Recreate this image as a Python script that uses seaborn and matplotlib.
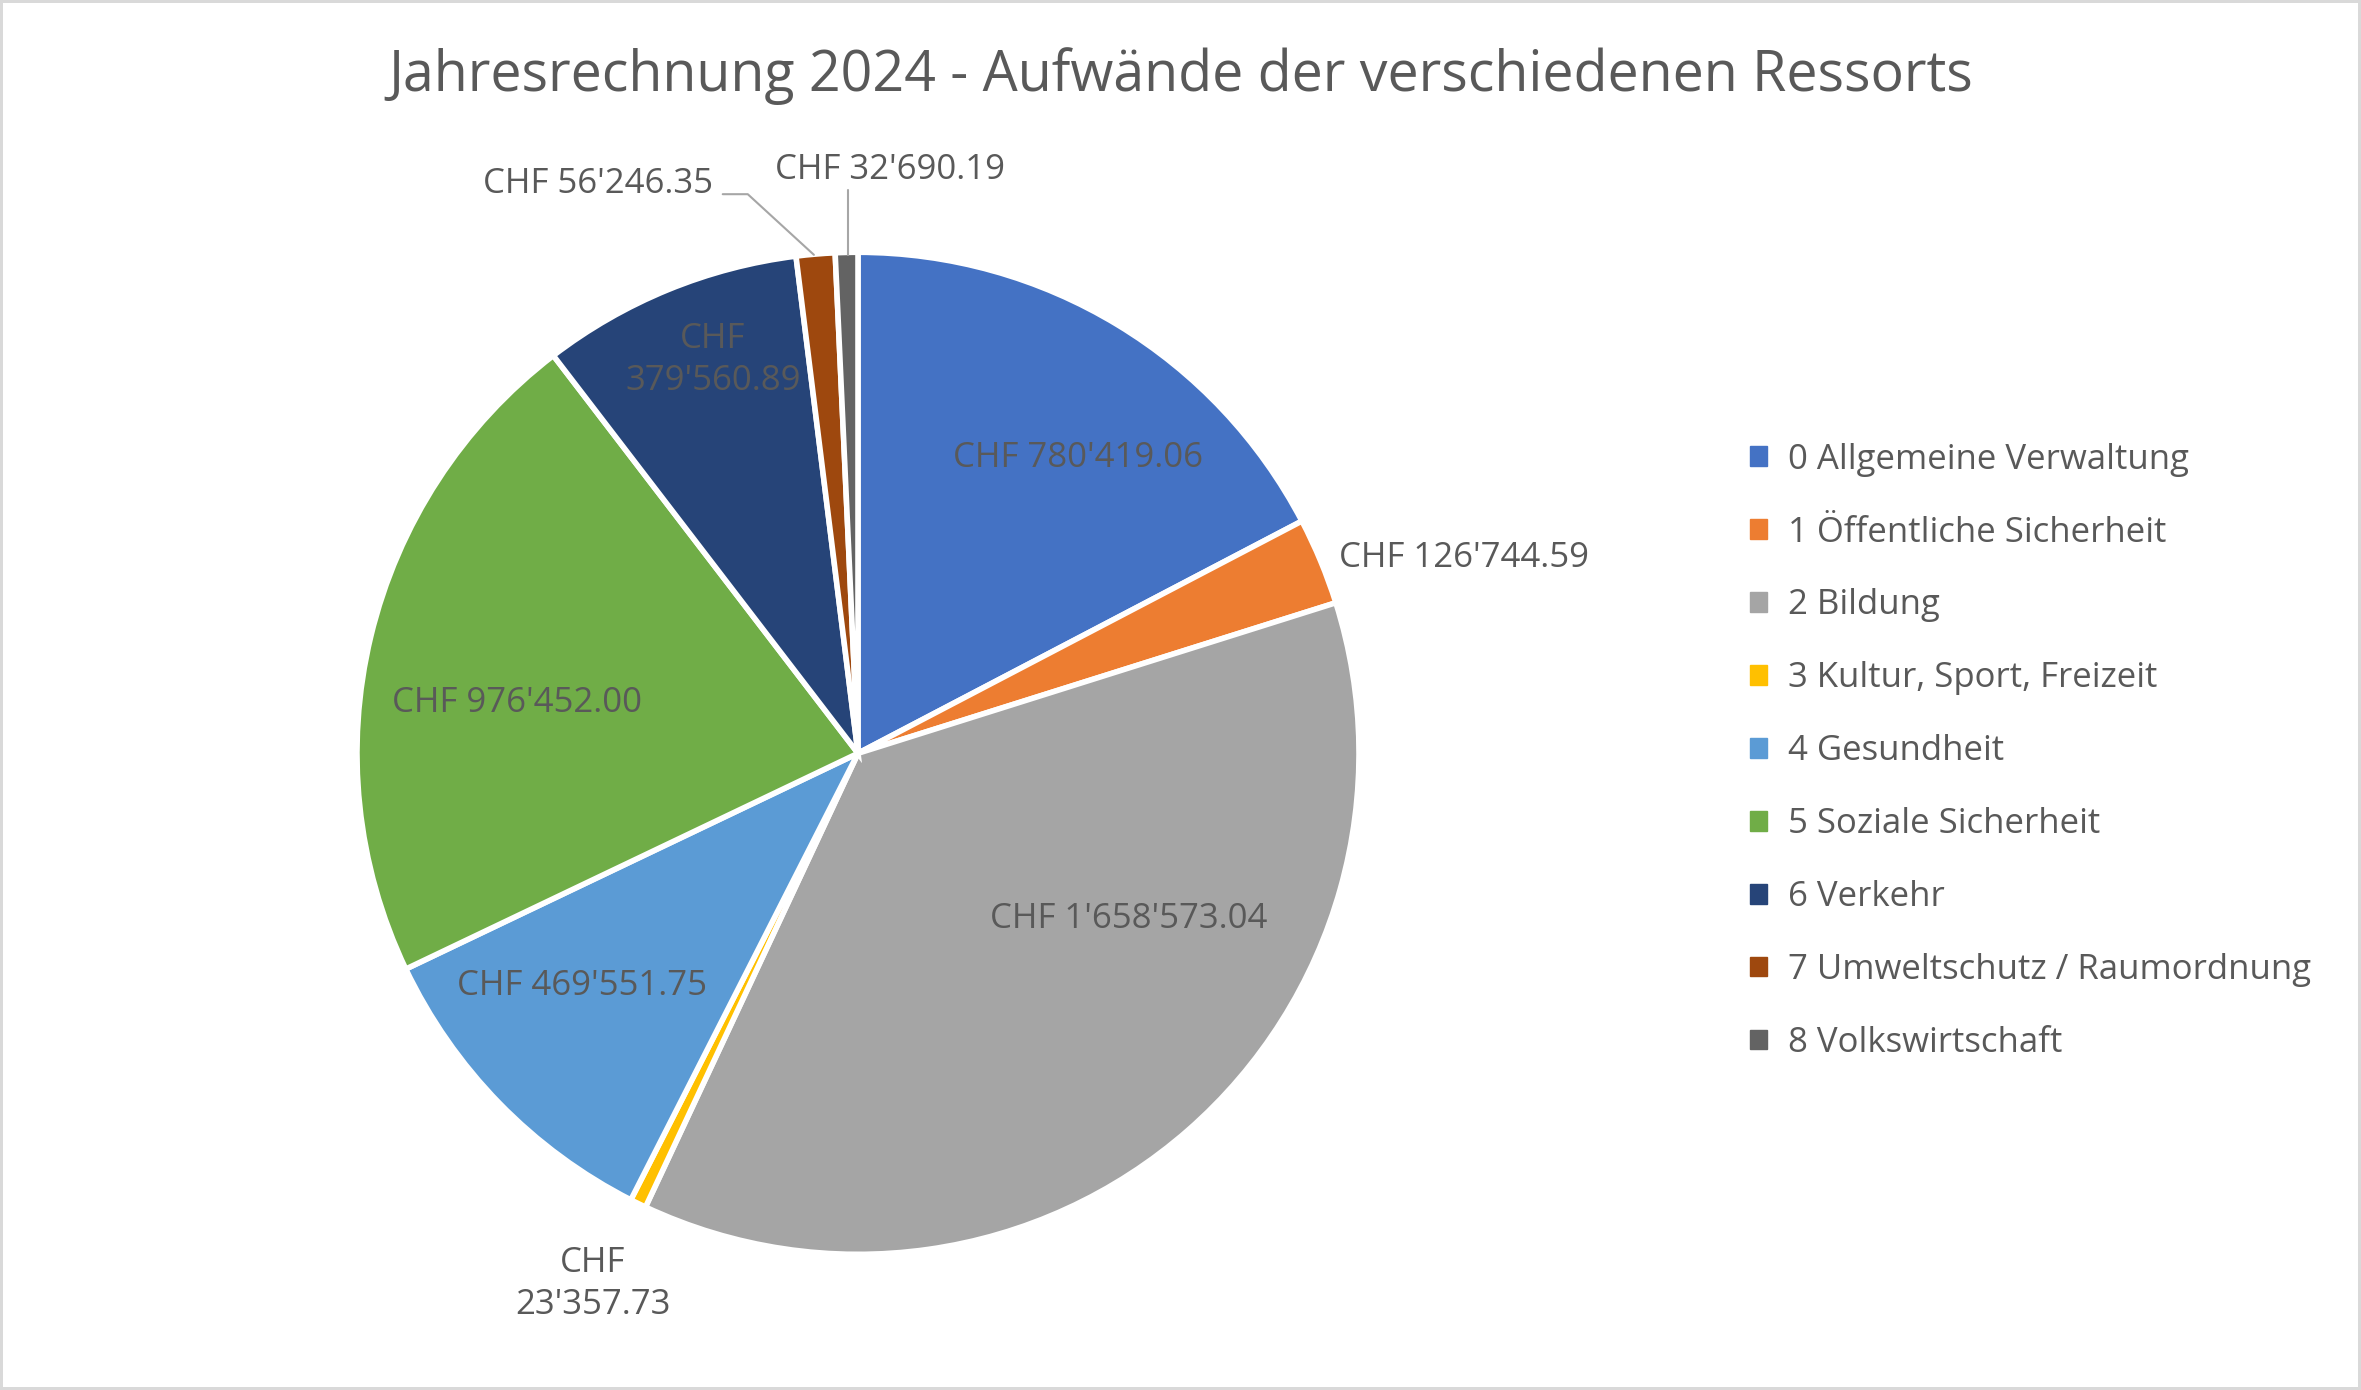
import numpy as np
import matplotlib.pyplot as plt
import seaborn as sns
from matplotlib.patches import Patch

categories = ["0 Allgemeine Verwaltung", "1 Öffentliche Sicherheit", "2 Bildung",
              "3 Kultur, Sport, Freizeit", "4 Gesundheit", "5 Soziale Sicherheit",
              "6 Verkehr", "7 Umweltschutz / Raumordnung", "8 Volkswirtschaft"]
values = [780419.06, 126744.59, 1658573.04, 23357.73, 469551.75,
          976452.00, 379560.89, 56246.35, 32690.19]
labels = ["CHF 780'419.06", "CHF 126'744.59", "CHF 1'658'573.04", "CHF\n23'357.73",
          "CHF 469'551.75", "CHF 976'452.00", "CHF\n379'560.89", "CHF 56'246.35",
          "CHF 32'690.19"]
colors = ["#4472C4", "#ED7D31", "#A5A5A5", "#FFC000", "#5B9BD5",
          "#70AD47", "#264478", "#9E480E", "#636363"]

sns.set_theme(style="white")
plt.rcParams['font.family'] = ['Open Sans', 'DejaVu Sans']
txt = "#595959"

fig = plt.figure(figsize=(23.61, 13.90), dpi=100)
fig.patch.set_edgecolor("#D9D9D9")
fig.patch.set_linewidth(3)
ax = fig.add_axes([0.1512, 0.0976, 0.4244, 0.7209])
wedges, _ = ax.pie(values, colors=colors, startangle=90, counterclock=False,
                   radius=1, wedgeprops=dict(edgecolor="white", linewidth=4))
ax.set_xlim(-1, 1)
ax.set_ylim(-1, 1)
ax.set_aspect("equal")
ax.axis("off")

# label positions, in pie radius units
fs = 25
pos = {0: (0.44, 0.59, "center"), 1: (0.96, 0.39, "left"), 2: (0.54, -0.33, "center"),
       3: (-0.53, -1.06, "center"), 4: (-0.55, -0.465, "center"), 5: (-0.68, 0.10, "center"),
       6: (-0.29, 0.785, "center"), 7: (-0.29, 1.136, "right"), 8: (0.063, 1.165, "center")}
for i, w in enumerate(wedges):
    x, y, ha = pos[i]
    ax.text(x, y, labels[i], ha=ha, va="center", fontsize=fs, color=txt,
            linespacing=1.3, clip_on=False)

ax.plot([-0.27, -0.22, -0.088], [1.116, 1.116, 0.995], color="#A6A6A6", lw=1.5, clip_on=False)
ax.plot([-0.02, -0.02], [1.125, 0.995], color="#A6A6A6", lw=1.5, clip_on=False)

fig.text(0.5, 0.945, "Jahresrechnung 2024 - Aufwände der verschiedenen Ressorts",
         ha="center", va="center", fontsize=40, color=txt)

handles = [Patch(facecolor=c, edgecolor=c) for c in colors]
fig.legend(handles, categories, loc="upper left", bbox_to_anchor=(0.728, 0.704),
           frameon=False, fontsize=25, labelcolor=txt, handlelength=0.5, handleheight=0.5,
           handletextpad=0.6, labelspacing=1.12)

fig.savefig("out.png", dpi=100)
